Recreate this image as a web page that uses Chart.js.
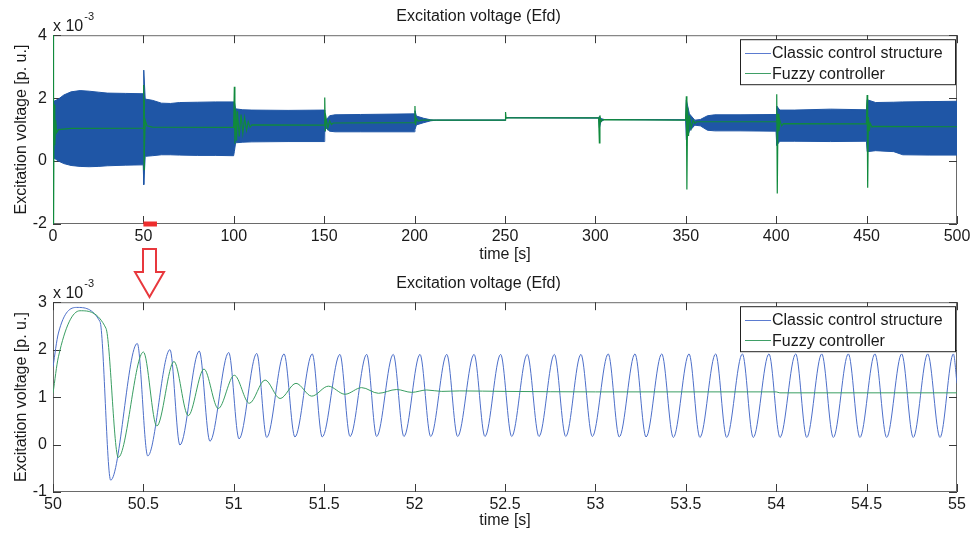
<!DOCTYPE html>
<html>
<head>
<meta charset="utf-8">
<title>Excitation voltage (Efd)</title>
<script src="https://cdn.jsdelivr.net/npm/chart.js@4.4.1/dist/chart.umd.min.js"></script>
<style>
  body { margin: 0; background: #fff; }
  #wrap { position: relative; width: 977px; height: 533px; }
  canvas { display: block; }
  #arrow { position: absolute; left: 0; top: 0; pointer-events: none; }
</style>
</head>
<body>
<div id="wrap">
  <canvas id="overviewChart" width="977" height="267"></canvas>
  <canvas id="zoomChart" width="977" height="266"></canvas>
  <svg id="arrow" width="977" height="533">
    <polygon points="143,249 156,249 156,272 164,272 149.5,297 135,272 143,272"
             fill="#fff" stroke="#e8383d" stroke-width="2"/>
  </svg>
</div>
<script>
// ---- top plot: 0 - 500 s (values x 10^-3 p.u.) ----
// classic controller oscillates too fast to see, so it is kept as upper / lower envelope
const overviewTime = [0, 0.5, 3, 6, 10, 15, 20, 25, 30, 40, 49.9,
  50.2, 51, 55, 60, 65, 70, 80, 90, 99.9,
  100.3, 101, 105, 110, 130, 149.9,
  150.3, 151, 153, 156, 170, 199.9,
  200.2, 201, 205, 209, 212, 250,
  250.3, 251, 301.8,
  302.2, 303, 305, 349.9,
  350.3, 352, 355, 358, 362, 366, 380, 399.9,
  400.3, 402, 410, 430, 449.9,
  450.3, 455, 465, 470, 485, 500];
const classicUpper = [1.0, 1.9, 1.97, 2.1, 2.2, 2.24, 2.22, 2.19, 2.16, 2.15, 2.14,
  2.89, 1.97, 1.93, 1.84, 1.83, 1.86, 1.87, 1.88, 1.88,
  1.9, 1.66, 1.63, 1.62, 1.61, 1.62,
  1.5, 1.3, 1.44, 1.47, 1.48, 1.5,
  1.6, 1.43, 1.36, 1.31, 1.3, 1.3,
  1.4, 1.38, 1.37,
  1.42, 1.35, 1.32, 1.31,
  1.94, 1.5, 1.3, 1.32, 1.44, 1.47, 1.47, 1.48,
  1.75, 1.62, 1.62, 1.65, 1.63,
  1.95, 1.86, 1.87, 1.88, 1.89, 1.9];
const classicLower = [1.0, 0.1, 0.0, -0.08, -0.14, -0.17, -0.18, -0.17, -0.15, -0.13, -0.12,
  -0.75, 0.15, 0.17, 0.2, 0.2, 0.19, 0.18, 0.18, 0.17,
  0.3, 0.58, 0.6, 0.61, 0.62, 0.62,
  0.9, 1.05, 0.95, 0.93, 0.93, 0.93,
  1.0, 1.15, 1.22, 1.28, 1.3, 1.3,
  1.38, 1.38, 1.37,
  1.05, 1.25, 1.32, 1.31,
  0.67, 0.95, 1.14, 1.12, 0.98, 0.96, 0.96, 0.95,
  0.5, 0.63, 0.63, 0.62, 0.63,
  0.3, 0.33, 0.3, 0.2, 0.19, 0.19];

const overviewFuzzyTime = [0, 0.3, 0.6, 1, 1.5, 2, 3, 10, 49.9,
  50.15, 50.36, 50.5, 50.6, 51, 52, 55, 99.9,
  100.3, 100.6, 101, 101.5, 102, 103, 104, 105, 106, 107, 108, 109, 110, 149.9,
  150.3, 150.6, 151, 152, 153, 154, 155, 199.9,
  200.2, 200.5, 201, 202, 204, 250,
  250.3, 250.6, 251, 301.8,
  302.2, 302.5, 303, 304, 349.9,
  350.3, 350.6, 351, 351.5, 352, 353, 354, 355, 356, 399.9,
  400.3, 400.6, 401, 401.5, 402, 403, 404, 449.9,
  450.3, 450.6, 451, 451.5, 452, 453, 454, 500];
const overviewFuzzy = [4.2, -2.2, 1.8, 0.5, 1.3, 0.9, 1.0, 1.04, 1.05,
  2.42, -0.27, 1.95, 0.4, 1.3, 1.12, 1.08, 1.07,
  2.36, 0.55, 1.65, 0.65, 1.58, 0.78, 1.48, 0.88, 1.38, 0.98, 1.25, 1.08, 1.15, 1.14,
  2.02, 0.95, 1.38, 1.05, 1.28, 1.16, 1.21, 1.22,
  1.75, 1.15, 1.35, 1.27, 1.3, 1.3,
  1.56, 1.36, 1.38, 1.37,
  0.58, 1.45, 1.25, 1.32, 1.3,
  2.06, -0.9, 1.7, 0.8, 1.45, 1.05, 1.3, 1.2, 1.25, 1.25,
  2.12, -1.03, 1.5, 0.95, 1.3, 1.12, 1.19, 1.18,
  2.1, -0.85, 1.4, 0.95, 1.2, 1.08, 1.1, 1.09];

const zoomMarkTime = [50, 57.5];
const zoomMarkLevel = [-2, -2];

const overviewTicksX = [0, 50, 100, 150, 200, 250, 300, 350, 400, 450, 500];
const overviewTicksY = [-2, 0, 2, 4];

// ---- bottom plot: 50 - 55 s (peaks and troughs) ----
const classicTime = [50.0, 50.03, 50.131, 50.26, 50.319, 50.466, 50.524, 50.647, 50.702, 50.809,
  50.868, 50.972, 51.029, 51.127, 51.182, 51.278, 51.338, 51.434, 51.489,
  51.587, 51.643, 51.735, 51.790, 51.882, 51.941, 52.030, 52.089, 52.178, 52.238,
  52.329, 52.389, 52.476, 52.537, 52.623, 52.688, 52.773, 52.836, 52.920, 52.983,
  53.071, 53.132, 53.219, 53.280, 53.367, 53.431, 53.518, 53.578, 53.665, 53.726,
  53.813, 53.873, 53.960, 54.021, 54.108, 54.169, 54.252, 54.316, 54.399, 54.463,
  54.546, 54.611, 54.694, 54.758, 54.838, 54.906, 54.980, 55.0];
const classicValue = [1.64, 2.35, 2.89, 2.59, -0.75, 2.13, -0.24, 2.00, -0.01, 1.97,
  0.07, 1.94, 0.12, 1.92, 0.15, 1.91, 0.16, 1.91, 0.16,
  1.90, 0.17, 1.90, 0.17, 1.90, 0.17, 1.90, 0.17, 1.90, 0.17,
  1.90, 0.17, 1.90, 0.17, 1.90, 0.17, 1.90, 0.17, 1.90, 0.17,
  1.91, 0.16, 1.91, 0.16, 1.91, 0.15, 1.91, 0.15, 1.91, 0.15,
  1.91, 0.15, 1.91, 0.15, 1.91, 0.15, 1.91, 0.15, 1.91, 0.15,
  1.91, 0.15, 1.91, 0.15, 1.91, 0.15, 1.91, 1.29];

const fuzzyTime = [50.0, 50.03, 50.149, 50.293, 50.361, 50.5, 50.574, 50.669, 50.748, 50.835,
  50.914, 51.003, 51.086, 51.173, 51.256, 51.344, 51.431, 51.523, 51.615, 51.707,
  51.8, 51.9, 51.984, 52.067, 52.15, 52.25, 52.5, 53.0, 54.0, 54.02, 55.0];
const fuzzyValue = [1.08, 1.85, 2.82, 2.45, -0.27, 1.95, 0.39, 1.75, 0.61, 1.59,
  0.76, 1.46, 0.87, 1.36, 0.97, 1.29, 1.02, 1.23, 1.06, 1.20,
  1.08, 1.16, 1.10, 1.15, 1.12, 1.13, 1.12, 1.11, 1.11, 1.09, 1.09];

const zoomTicksX = [50, 50.5, 51, 51.5, 52, 52.5, 53, 53.5, 54, 54.5, 55];
const zoomTicksY = [-1, 0, 1, 2, 3];

const FONT = "'Liberation Sans', Arial, Helvetica, sans-serif";
const TEXT = '#1a1a1a';

const toPoints = (xs, ys) => xs.map((x, i) => ({x: x, y: ys[i]}));

// MATLAB style box: frame, inside ticks, exponent label and boxed legend
const matlabAxes = {
  id: 'matlabAxes',
  beforeDatasetsDraw(chart) {
    const {ctx, chartArea: a, scales} = chart;
    ctx.save();
    ctx.strokeStyle = '#6a6a6a';
    ctx.lineWidth = 1;
    ctx.strokeRect(a.left + 0.5, a.top + 0.5, a.width - 1, a.height - 1);
    ctx.strokeStyle = '#3a3a3a';
    ctx.beginPath();
    scales.x.ticks.forEach(t => {
      const px = Math.round(scales.x.getPixelForValue(t.value)) + 0.5;
      ctx.moveTo(px, a.bottom); ctx.lineTo(px, a.bottom - 8);
      ctx.moveTo(px, a.top); ctx.lineTo(px, a.top + 8);
    });
    scales.y.ticks.forEach(t => {
      const py = Math.round(scales.y.getPixelForValue(t.value)) + 0.5;
      ctx.moveTo(a.left, py); ctx.lineTo(a.left + 8, py);
      ctx.moveTo(a.right, py); ctx.lineTo(a.right - 8, py);
    });
    ctx.stroke();

    ctx.fillStyle = TEXT;
    ctx.textAlign = 'left';
    ctx.textBaseline = 'alphabetic';
    ctx.font = '16px ' + FONT;
    ctx.fillText('x 10', a.left, a.top - 4);
    const w = ctx.measureText('x 10').width;
    ctx.font = '11px ' + FONT;
    ctx.fillText('-3', a.left + w + 1, a.top - 15);
    ctx.restore();
  },
  afterDraw(chart) {
    const {ctx, chartArea: a} = chart;
    const items = chart.data.datasets.filter(d => d.inLegend);
    const left = a.right - 217, top = a.top + 4;
    ctx.save();
    ctx.fillStyle = '#fff';
    ctx.fillRect(left, top, 215, 45);
    ctx.strokeStyle = '#222';
    ctx.lineWidth = 1;
    ctx.strokeRect(left + 0.5, top + 0.5, 215, 45);
    ctx.font = '16px ' + FONT;
    ctx.textBaseline = 'middle';
    items.forEach((d, i) => {
      const y = top + 13.5 + i * 20.5;
      ctx.strokeStyle = d.legendColor;
      ctx.beginPath();
      ctx.moveTo(left + 5, Math.round(y) + 0.5);
      ctx.lineTo(left + 31, Math.round(y) + 0.5);
      ctx.stroke();
      ctx.fillStyle = TEXT;
      ctx.fillText(d.label, left + 32, y + 1);
    });
    ctx.restore();
  }
};

const matlabChart = (idCanvas, datasets, ticksX, ticksY, axisHeight) => {
  const config = {
    type: 'line',
    data: {datasets: datasets},
    options: {
      responsive: false,
      animation: false,
      events: [],
      layout: {padding: {left: 0, right: 20, top: 0, bottom: 0}},
      elements: {point: {radius: 0}},
      plugins: {
        legend: {display: false},
        tooltip: {enabled: false},
        title: {
          display: true,
          text: 'Excitation voltage (Efd)',
          color: TEXT,
          font: {family: FONT, size: 16, weight: 'normal'},
          padding: {top: 7, bottom: 9}
        }
      },
      scales: {
        x: {
          type: 'linear',
          min: ticksX[0],
          max: ticksX[ticksX.length - 1],
          afterBuildTicks: s => { s.ticks = ticksX.map(v => ({value: v})); },
          afterFit: s => { s.height = axisHeight; },
          grid: {display: false, drawTicks: false},
          border: {display: false},
          ticks: {color: TEXT, font: {family: FONT, size: 16}, padding: 3,
                  maxRotation: 0, autoSkip: false, callback: v => String(v)},
          title: {display: true, text: 'time [s]', color: TEXT,
                  font: {family: FONT, size: 16}, padding: {top: 0, bottom: 3}}
        },
        y: {
          type: 'linear',
          min: ticksY[0],
          max: ticksY[ticksY.length - 1],
          afterBuildTicks: s => { s.ticks = ticksY.map(v => ({value: v})); },
          afterFit: s => { s.width = 53; },
          grid: {display: false, drawTicks: false},
          border: {display: false},
          ticks: {color: TEXT, font: {family: FONT, size: 16}, padding: 6,
                  callback: v => String(v)},
          title: {display: true, text: 'Excitation voltage [p. u.]', color: TEXT,
                  font: {family: FONT, size: 16}, padding: {top: 12, bottom: 0}}
        }
      }
    },
    plugins: [matlabAxes]
  };
  return new Chart(document.getElementById(idCanvas), config);
};

// dataset index matters for fill: '+1' (upper fills down to the lower envelope)
matlabChart('overviewChart', [
  {
    label: 'Classic control structure',
    inLegend: true,
    legendColor: '#5b7bd0',
    data: toPoints(overviewTime, classicUpper),
    borderColor: '#1f56a6',
    backgroundColor: '#1f56a6',
    borderWidth: 1,
    fill: '+1',
    order: 2
  },
  {
    label: 'classic lower',
    data: toPoints(overviewTime, classicLower),
    borderColor: '#1f56a6',
    borderWidth: 1,
    fill: false,
    order: 3
  },
  {
    label: 'Fuzzy controller',
    inLegend: true,
    legendColor: '#3f9f66',
    data: toPoints(overviewFuzzyTime, overviewFuzzy),
    borderColor: '#108a3c',
    borderWidth: 1.2,
    fill: false,
    order: 1
  },
  {
    label: 'zoom window',
    data: toPoints(zoomMarkTime, zoomMarkLevel),
    borderColor: '#ee2e2e',
    borderWidth: 5,
    fill: false,
    clip: false,
    order: 0
  }
], overviewTicksX, overviewTicksY, 43);

matlabChart('zoomChart', [
  {
    label: 'Classic control structure',
    inLegend: true,
    legendColor: '#5b7bd0',
    data: toPoints(classicTime, classicValue),
    borderColor: '#4d6fc9',
    borderWidth: 1,
    cubicInterpolationMode: 'monotone',
    order: 2
  },
  {
    label: 'Fuzzy controller',
    inLegend: true,
    legendColor: '#3f9f66',
    data: toPoints(fuzzyTime, fuzzyValue),
    borderColor: '#3a9e62',
    borderWidth: 1,
    cubicInterpolationMode: 'monotone',
    order: 1
  }
], zoomTicksX, zoomTicksY, 41);
</script>
</body>
</html>
